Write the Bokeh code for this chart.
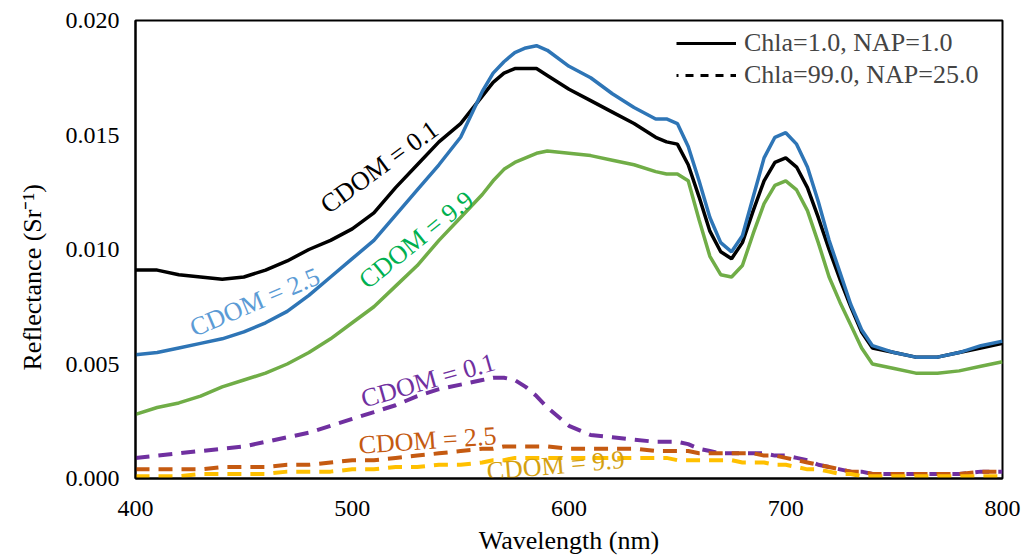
import math
from bokeh.plotting import figure
from bokeh.models import FixedTicker, NumeralTickFormatter, Range1d, Legend, LegendItem, Title
from bokeh.core.properties import value
from bokeh.embed import file_html
from bokeh.resources import INLINE

# Wavelength grid (nm)
wl = [400, 410, 420, 430, 440, 450, 460, 470, 480, 490, 500, 510, 520, 530, 540, 550,
      560, 565, 570, 575, 580, 585, 590, 600, 610, 620, 630, 640, 645, 650, 655, 660,
      665, 670, 675, 680, 685, 690, 695, 700, 705, 710, 715, 720, 725, 730, 735, 740,
      750, 760, 770, 780, 790, 800]

# Chla=1.0, NAP=1.0 (solid)
s_cdom01 = [0.0091, 0.0091, 0.0089, 0.0088, 0.0087, 0.0088, 0.0091, 0.0095, 0.0100, 0.0104,
            0.0109, 0.0116, 0.0127, 0.0137, 0.0147, 0.0155, 0.0167, 0.0173, 0.0177, 0.0179,
            0.0179, 0.0179, 0.0176, 0.0170, 0.0165, 0.0160, 0.0155, 0.0149, 0.0147, 0.0146,
            0.0137, 0.0123, 0.0108, 0.0099, 0.0096, 0.0103, 0.0117, 0.0130, 0.0138, 0.0140,
            0.0136, 0.0127, 0.0114, 0.0100, 0.0087, 0.0075, 0.0064, 0.0057, 0.0055, 0.0053,
            0.0053, 0.0055, 0.0057, 0.0059]
s_cdom25 = [0.0054, 0.0055, 0.0057, 0.0059, 0.0061, 0.0064, 0.0068, 0.0073, 0.0080, 0.0088,
            0.0096, 0.0104, 0.0115, 0.0126, 0.0137, 0.0149, 0.0169, 0.0177, 0.0182, 0.0186,
            0.0188, 0.0189, 0.0187, 0.0180, 0.0175, 0.0168, 0.0162, 0.0157, 0.0157, 0.0155,
            0.0145, 0.0130, 0.0114, 0.0103, 0.0099, 0.0106, 0.0123, 0.0140, 0.0149, 0.0151,
            0.0146, 0.0136, 0.0121, 0.0104, 0.0090, 0.0076, 0.0065, 0.0058, 0.0055, 0.0053,
            0.0053, 0.0055, 0.0058, 0.0060]
s_cdom99 = [0.0028, 0.0031, 0.0033, 0.0036, 0.0040, 0.0043, 0.0046, 0.0050, 0.0055, 0.0061,
            0.0068, 0.0075, 0.0084, 0.0093, 0.0104, 0.0114, 0.0124, 0.0130, 0.0135, 0.0138,
            0.0140, 0.0142, 0.0143, 0.0142, 0.0141, 0.0139, 0.0137, 0.0134, 0.0133, 0.0133,
            0.0130, 0.0113, 0.0097, 0.0089, 0.0088, 0.0093, 0.0107, 0.0120, 0.0128, 0.0130,
            0.0126, 0.0117, 0.0103, 0.0088, 0.0077, 0.0067, 0.0057, 0.0050, 0.0048, 0.0046,
            0.0046, 0.0047, 0.0049, 0.0051]

# Chla=99.0, NAP=25.0 (dashed)
d_cdom01 = [0.0009, 0.0010, 0.0011, 0.0012, 0.0013, 0.0014, 0.0016, 0.0018, 0.0020, 0.0023,
            0.0026, 0.0029, 0.0032, 0.0036, 0.0039, 0.0041, 0.0043, 0.0044, 0.0044, 0.0043,
            0.0040, 0.0036, 0.0031, 0.0023, 0.0019, 0.0018, 0.0017, 0.0016, 0.0016, 0.0016,
            0.0015, 0.0013, 0.0012, 0.0011, 0.0011, 0.0011, 0.0011, 0.0011, 0.0010, 0.0010,
            0.0009, 0.0008, 0.0006, 0.0005, 0.0004, 0.0003, 0.0003, 0.0002, 0.0002, 0.0002,
            0.0002, 0.0002, 0.0003, 0.0003]
d_cdom25 = [0.0004, 0.0004, 0.0004, 0.0004, 0.0005, 0.0005, 0.0005, 0.0006, 0.0006, 0.0007,
            0.0008, 0.0008, 0.0009, 0.0010, 0.0011, 0.0012, 0.0013, 0.0013, 0.0014, 0.0014,
            0.0014, 0.0014, 0.0014, 0.0013, 0.0013, 0.0013, 0.0013, 0.0012, 0.0012, 0.0012,
            0.0012, 0.0011, 0.0011, 0.0011, 0.0011, 0.0011, 0.0011, 0.0010, 0.0010, 0.0009,
            0.0008, 0.0007, 0.0006, 0.0005, 0.0004, 0.0003, 0.0003, 0.0002, 0.0002, 0.0002,
            0.0002, 0.0002, 0.0003, 0.0003]
d_cdom99 = [0.0001, 0.0001, 0.0001, 0.0002, 0.0002, 0.0002, 0.0002, 0.0003, 0.0003, 0.0003,
            0.0004, 0.0004, 0.0005, 0.0005, 0.0006, 0.0006, 0.0007, 0.0008, 0.0008, 0.0009,
            0.0009, 0.0009, 0.0009, 0.0009, 0.0009, 0.0009, 0.0009, 0.0009, 0.0009, 0.0008,
            0.0008, 0.0008, 0.0008, 0.0008, 0.0008, 0.0007, 0.0007, 0.0007, 0.0006, 0.0006,
            0.0005, 0.0004, 0.0004, 0.0003, 0.0002, 0.0002, 0.0001, 0.0001, 0.0001, 0.0001,
            0.0001, 0.0001, 0.0001, 0.0001]

x_ticks = [400, 500, 600, 700, 800]
y_ticks = [0.0, 0.005, 0.010, 0.015, 0.020]

legend_labels = ["Chla=1.0, NAP=1.0", "Chla=99.0, NAP=25.0"]
x_title = "Wavelength (nm)"
y_title = "Reflectance (Sr\u207b\u00b9)"

# Curve labels: text, x, y, angle (deg), colour
lab_text = ["CDOM = 0.1", "CDOM = 2.5", "CDOM = 9.9", "CDOM = 0.1", "CDOM = 2.5", "CDOM = 9.9"]
lab_x = [512.5, 455, 529.5, 535, 534.7, 593.8]
lab_y = [0.0136, 0.0077, 0.01042, 0.00428, 0.00166, 0.00057]
lab_ang = [36, 23, 39, 16, 4, 5]
lab_col = ["#000000", "#5B9BD5", "#00B050", "#7030A0", "#C55A11", "#D4A010"]

FONT = "Liberation Serif"

p = figure(width=1021, height=557, output_backend="svg", toolbar_location=None,
           x_range=Range1d(400, 800), y_range=Range1d(0, 0.020),
           min_border_left=135, min_border_right=19, min_border_top=20, min_border_bottom=79)
p.xgrid.visible = False
p.ygrid.visible = False
p.outline_line_color = "black"
p.outline_line_width = 2
p.background_fill_color = "white"
p.border_fill_color = "white"

solid = [(s_cdom01, "#000000"), (s_cdom25, "#2E75B6"), (s_cdom99, "#70AD47")]
dashed = [(d_cdom01, "#7030A0"), (d_cdom25, "#C55A11"), (d_cdom99, "#FFC000")]

for ys, c in solid:
    p.line(wl, ys, line_color=c, line_width=3.5)
for ys, c in dashed:
    p.line(wl, ys, line_color=c, line_width=4, line_dash="14 9")

# Legend proxies (black), drawn outside the visible range
leg_solid = p.line([300, 310], [-1, -1], line_color="black", line_width=3)
leg_dash = p.line([300, 310], [-1, -1], line_color="black", line_width=3,
                  line_dash="8 7", line_dash_offset=6)
legend = Legend(items=[LegendItem(label=legend_labels[0], renderers=[leg_solid]),
                       LegendItem(label=legend_labels[1], renderers=[leg_dash])],
                location="top_right", border_line_color=None, background_fill_alpha=0,
                label_text_font=FONT, label_text_font_size="26px", glyph_width=60,
                glyph_height=20, label_standoff=8, spacing=2, margin=8, padding=0,
                label_height=26, label_width=250)
p.add_layout(legend)

p.text(x=lab_x, y=lab_y, text=lab_text, angle=[math.radians(a) for a in lab_ang],
       text_color=lab_col, text_font=value(FONT), text_font_size="26px",
       text_align="center", text_baseline="middle")

for ax in (p.xaxis[0], p.yaxis[0]):
    ax.major_tick_line_color = None
    ax.minor_tick_line_color = None
    ax.major_tick_out = 0
    ax.major_tick_in = 0
    ax.axis_line_color = "black"
    ax.axis_line_width = 2
    ax.major_label_text_font = FONT
    ax.major_label_text_font_size = "24px"
    ax.major_label_text_color = "black"
    ax.axis_label_text_font = FONT
    ax.axis_label_text_font_size = "26px"
    ax.axis_label_text_font_style = "normal"
    ax.axis_label_text_color = "black"

p.xaxis.ticker = FixedTicker(ticks=x_ticks)
p.yaxis.ticker = FixedTicker(ticks=y_ticks)
p.yaxis.formatter = NumeralTickFormatter(format="0.000")
p.xaxis.major_label_standoff = 22
p.yaxis.major_label_standoff = 16
p.xaxis.axis_label = x_title
p.xaxis.axis_label_standoff = 7

# y-axis title as a side title, shifted slightly below centre as in the original
ytitle = Title(text=y_title, align="left", offset=108, vertical_align="middle",
               text_font=FONT, text_font_size="26px", text_font_style="normal",
               text_color="black", standoff=29)
p.add_layout(ytitle, "left")

open("out.html", "w").write(file_html(p, INLINE))
